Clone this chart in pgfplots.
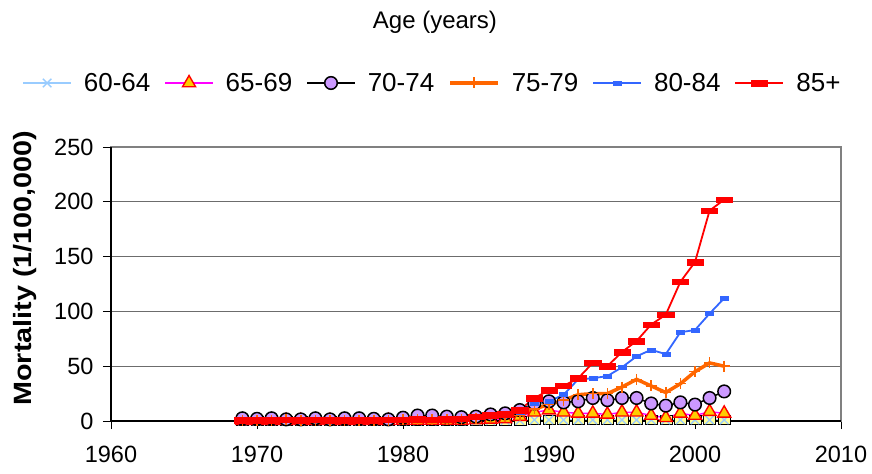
\documentclass[border=0pt]{standalone}
\usepackage{pgfplots}
\pgfplotsset{compat=1.18}
\usepackage{pgfplotstable}
\usepackage{graphicx}
\usepackage{fontspec}
\setmainfont{Liberation Sans}
\definecolor{c6064}{HTML}{99CCFF}
\definecolor{y6064}{HTML}{FFFF99}
\definecolor{c6569}{HTML}{FF00FF}
\definecolor{f6569}{HTML}{FFCC00}
\definecolor{f7074}{HTML}{CC99FF}
\definecolor{c7579}{HTML}{FF6600}
\definecolor{c8084}{HTML}{3366FF}
\definecolor{c85}{HTML}{FF0000}
\pgfplotstableread{
year a b c d e f
1969 0 0.3 2.5 0.5 1 0.5
1970 0 0.3 2 0.5 1 0.5
1971 0 0.3 2.5 0.5 1 0.5
1972 0 0.3 1.5 1 1.5 1
1973 0 0.3 1.5 0.5 1 0.5
1974 0 0.3 2.5 0.5 1.5 1
1975 0 0.3 1.5 0.5 1 0.5
1976 0 0.3 2.5 0.5 1 0.5
1977 0 0.3 2.5 0.5 1 0.5
1978 0 0.3 2 0.5 1 0.5
1979 0 0.3 1.5 0.5 1 1
1980 0 0.5 3 1 1.5 1
1981 0 0.5 5 1 2 1.5
1982 0 0.5 5 1.5 2 1
1983 0 0.5 4 1.5 2 1.5
1984 0 0.5 3.5 1.5 2.5 2
1985 0.2 1 4 2 3 4
1986 0.3 1.5 6 3 4 5
1987 0.5 2 7 4 5 6
1988 0.5 4 10 5 8 10
1989 1 8 16 11 16 21
1990 1 10 18 15 18 28
1991 1 8 17 19 24 32
1992 1 7 18 24 38 39
1993 1 7 21 25 39 53
1994 1 6 19 25 41 50
1995 1 8 21 31 49 63
1996 1 8 21 38 59 73
1997 1 5 16 32 65 88
1998 1 3 14 26 61 97
1999 1 7 17 34 81 127
2000 1 5 15 45 83 145
2001 1 8.5 21 53 98 192
2002 1 7 27 50 112 202
}\data
\begin{document}
\begin{tikzpicture}
\begin{axis}[
  width=730pt, height=274pt, scale only axis,
  xmin=1960, xmax=2010, ymin=0, ymax=250,
  xtick={1960,1970,...,2010}, ytick={0,50,...,250},
  axis line style={gray, line width=1.2pt},
  ymajorgrids, grid style={gray!85!black, line width=1.3pt},
  tick align=outside, xtick pos=bottom, ytick pos=left,
  major tick length=8pt,
  tick style={black, line width=0.8pt},
  ticklabel style={font=\fontsize{23.5}{26}\selectfont},
  /pgf/number format/assume math mode=true,
  /pgf/number format/1000 sep={},
  xticklabel style={yshift=-14pt},
  yticklabel style={xshift=-6pt},
  ylabel={\scalebox{1.15}[1]{\bfseries Mortality (1/100,000)}},
  every axis y label/.style={at={(axis description cs:-0.1178,0.558)}, rotate=90, anchor=center, font=\fontsize{25}{28}\selectfont},
  clip=false,
  legend columns=6,
  legend style={draw=none, fill=none, at={(axis description cs:0.4404,1.2336)}, anchor=center,
    font=\fontsize{26}{29}\selectfont,
    /tikz/every even column/.append style={column sep=12pt},
    /tikz/every odd column/.append style={column sep=10pt}},
  legend image code/.code={\draw[mark repeat=2,mark phase=2,#1] plot coordinates {(0pt,0pt) (24pt,0pt) (48pt,0pt)};},
]
\addplot[forget plot, draw=none, mark=square*, mark size=6pt, mark options={fill=y6064, draw=none, yscale=0.75}] table[x=year,y=a] {\data};
\addplot[c6064, line width=1.4pt, mark=x, mark size=6pt, mark options={line width=1.3pt}] table[x=year,y=a] {\data};
\addlegendentry{60-64}
\addplot[c6569, line width=1.4pt, mark=triangle*, mark size=7.5pt, mark options={fill=f6569, draw=c85, line width=1.4pt}] table[x=year,y=b] {\data};
\addlegendentry{65-69}
\addplot[black, line width=1.5pt, mark=*, mark size=6.3pt, mark options={fill=f7074, draw=black, line width=1.5pt}] table[x=year,y=c] {\data};
\addlegendentry{70-74}
\addplot[c7579, line width=3.5pt, mark=+, mark size=5.5pt, mark options={line width=1.5pt}] table[x=year,y=d] {\data};
\addlegendentry{75-79}
\addplot[c8084, line width=1.8pt, mark=square*, mark size=2pt, mark options={xscale=2, line width=0.5pt}] table[x=year,y=e] {\data};
\addlegendentry{80-84}
\addplot[c85, line width=1.8pt, mark=square*, mark size=2.8pt, mark options={xscale=2.9, line width=0.5pt}] table[x=year,y=f] {\data};
\addlegendentry{85+}
\draw[black, line width=1.2pt] (rel axis cs:0,1) -- (rel axis cs:0,0) -- (rel axis cs:1,0);
\node[font=\fontsize{24}{27}\selectfont] at (axis description cs:0.4438,1.456) {Age (years)};
\path (axis description cs:-0.152,-0.19) rectangle (axis description cs:1.0425,1.5365);
\end{axis}
\end{tikzpicture}
\end{document}
